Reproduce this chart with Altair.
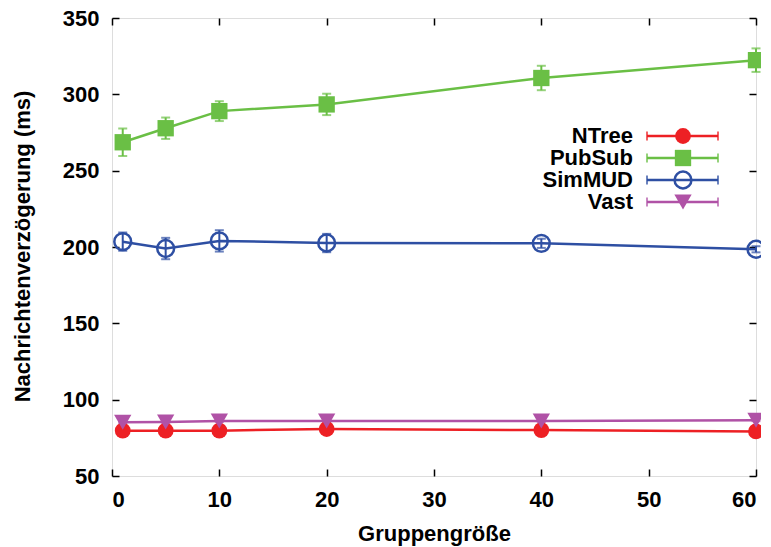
import altair as alt
import pandas as pd

# ---- data ----
group_sizes = [1, 5, 10, 20, 40, 60]
series_names = ["NTree", "PubSub", "SimMUD", "Vast"]
legend_rows = [0, 1, 2, 3]

ntree = [79.7, 79.7, 79.7, 80.8, 80.1, 79.2]
ntree_err = [0.6, 0.6, 0.6, 0.6, 0.6, 0.6]
pubsub = [268.6, 277.8, 289.0, 293.4, 310.7, 322.4]
pubsub_err = [9.0, 7.0, 6.5, 7.0, 8.0, 7.7]
simmud = [203.5, 199.0, 204.0, 202.6, 202.4, 198.5]
simmud_err = [6.0, 7.0, 7.0, 6.0, 3.0, 2.0]
vast = [85.2, 85.4, 86.0, 86.0, 86.0, 86.5]
vast_err = [0.6, 0.6, 0.6, 0.6, 0.6, 0.6]

x_ticks = [0, 10, 20, 30, 40, 50, 60]
y_ticks = [50, 100, 150, 200, 250, 300, 350]

colors = ["#ed2024", "#6abf45", "#2e4fa3", "#b052a6"]
shapes = ["circle", "square", "circle", "triangle-down"]
sizes = [250, 300, 230, 250]

FONT = "Liberation Sans"
FS = 22

rows = []
for name, vals, errs in [("NTree", ntree, ntree_err), ("PubSub", pubsub, pubsub_err),
                         ("SimMUD", simmud, simmud_err), ("Vast", vast, vast_err)]:
    for x, v, e in zip(group_sizes, vals, errs):
        rows.append({"series": name, "x": x, "y": v, "lo": v - e, "hi": v + e})
df = pd.DataFrame(rows)
legend_df = pd.DataFrame({"series": series_names, "row": legend_rows})

color = alt.Color("series:N", scale=alt.Scale(domain=series_names, range=colors), legend=None)
shape = alt.Shape("series:N", scale=alt.Scale(domain=series_names, range=shapes), legend=None)
size = alt.Size("series:N", scale=alt.Scale(domain=series_names, range=sizes), legend=None)

xscale = alt.Scale(domain=[0, 60], nice=False, zero=False)
yscale = alt.Scale(domain=[50, 350], nice=False, zero=False)

axis_common = dict(
    labelFont=FONT, labelFontSize=FS, labelFontWeight="bold", labelColor="black",
    tickColor="black", tickWidth=1.5, tickSize=7, domain=False, grid=False, offset=-7,
    titleFont=FONT, titleFontSize=FS, titleFontWeight="bold", titleColor="black",
)

x_axis = alt.Axis(values=x_ticks, labelPadding=13, title="Gruppengröße",
                  titleX=322, titleY=71, titleBaseline="alphabetic", titleAlign="center",
                  **axis_common)
y_axis = alt.Axis(values=y_ticks, labelPadding=13, title="Nachrichtenverzögerung (ms)",
                  titleX=-90, titleY=228, titleBaseline="alphabetic", titleAlign="center",
                  titleAngle=270, **axis_common)

base = alt.Chart(df)
X = alt.X("x:Q", scale=xscale, axis=x_axis)
Y = alt.Y("y:Q", scale=yscale, axis=y_axis)

err_rule = base.mark_rule(strokeWidth=2).encode(
    x=alt.X("x:Q", scale=xscale), y=alt.Y("lo:Q", scale=yscale), y2="hi:Q", color=color)
cap_lo = base.mark_tick(orient="horizontal", size=9, thickness=2).encode(
    x=alt.X("x:Q", scale=xscale), y=alt.Y("lo:Q", scale=yscale), color=color)
cap_hi = base.mark_tick(orient="horizontal", size=9, thickness=2).encode(
    x=alt.X("x:Q", scale=xscale), y=alt.Y("hi:Q", scale=yscale), color=color)
lines = base.mark_line(strokeWidth=2.5).encode(x=X, y=Y, color=color, detail="series:N")
pts_filled = base.transform_filter(alt.datum.series != "SimMUD").mark_point(
    filled=True, opacity=1).encode(x=X, y=Y, color=color, shape=shape, size=size)
pts_open = base.transform_filter(alt.datum.series == "SimMUD").mark_point(
    filled=False, opacity=1, strokeWidth=2.5).encode(x=X, y=Y, color=color, shape=shape, size=size)

main = alt.layer(lines, err_rule, cap_lo, cap_hi, pts_filled, pts_open)

mirror = base.mark_point(opacity=0).encode(
    x=alt.X("x:Q", scale=xscale, title=None,
            axis=alt.Axis(orient="top", values=x_ticks, labels=False, **axis_common)),
    y=alt.Y("y:Q", scale=yscale, title=None,
            axis=alt.Axis(orient="right", values=y_ticks, labels=False, **axis_common)),
)

# ---- legend (inside the plot, top right) ----
leg_y = alt.Y("row:Q", scale=alt.Scale(domain=[0, 3], range=[118, 184], nice=False, zero=False),
              axis=None)
lbase = alt.Chart(legend_df)
leg_line = lbase.mark_rule(strokeWidth=2.5).encode(
    x=alt.value(535), x2=alt.value(606), y=leg_y, color=color)
leg_cap1 = lbase.mark_tick(orient="vertical", size=9, thickness=2).encode(
    x=alt.value(535), y=leg_y, color=color)
leg_cap2 = lbase.mark_tick(orient="vertical", size=9, thickness=2).encode(
    x=alt.value(606), y=leg_y, color=color)
leg_pf = lbase.transform_filter(alt.datum.series != "SimMUD").mark_point(
    filled=True, opacity=1).encode(x=alt.value(571), y=leg_y, color=color, shape=shape, size=size)
leg_po = lbase.transform_filter(alt.datum.series == "SimMUD").mark_point(
    filled=False, opacity=1, strokeWidth=2.5).encode(x=alt.value(571), y=leg_y, color=color,
                                                      shape=shape, size=size)
leg_text = lbase.mark_text(align="right", baseline="middle", font=FONT, fontSize=FS,
                           fontWeight="bold", color="black").encode(
    x=alt.value(521), y=leg_y, text="series:N")
legend = alt.layer(leg_line, leg_cap1, leg_cap2, leg_pf, leg_po, leg_text)

chart = alt.layer(main, mirror, legend).resolve_scale(
    x="independent", y="independent"
).properties(
    width=644, height=458,
    autosize=alt.AutoSizeParams(type="none"),
    padding={"left": 104, "top": 10, "right": 5, "bottom": 75},
).configure_view(stroke="black", strokeWidth=2).configure(background="white")

chart.save("out.html", embed_options={"renderer": "svg", "actions": False})
